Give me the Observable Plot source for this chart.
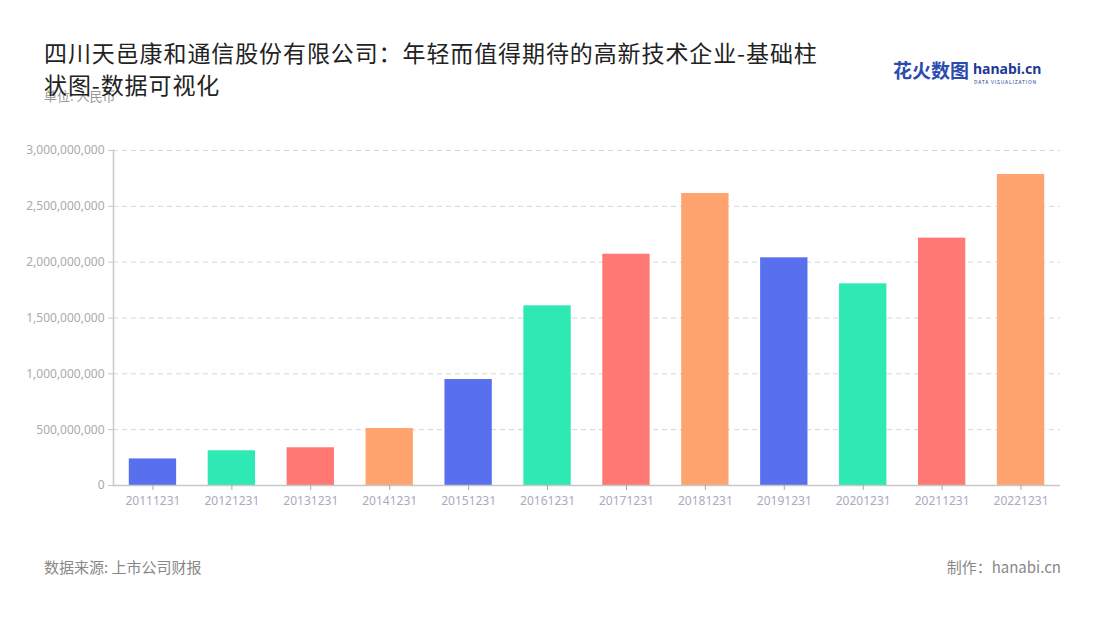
<!DOCTYPE html>
<html>
<head>
<meta charset="utf-8">
<script src="https://cdn.jsdelivr.net/npm/d3@7"></script>
<script src="https://cdn.jsdelivr.net/npm/@observablehq/plot@0.6"></script>
<style>
  body { margin: 0; background: #fff; font-family: "Noto Sans CJK SC", "Noto Sans", sans-serif; }
  #wrap { position: relative; width: 1100px; height: 620px; overflow: hidden; }
  #title { position: absolute; left: 44px; top: 36px; width: 820px; font-size: 23px; letter-spacing: 0.9px; line-height: 32px; color: #222; z-index: 2; white-space: nowrap; }
  #unit { position: absolute; left: 44px; top: 86px; font-size: 13px; color: #999; z-index: 1; }
  #logo { position: absolute; left: 893px; top: 56px; width: 150px; height: 30px; font-size: 19px; font-weight: bold; color: #2b4bb0; }
  #logo .en { position: absolute; left: 80px; top: 3px; font-size: 14px; color: #1e3a99; font-family: "Noto Sans", sans-serif; }
  #logo .sub { position: absolute; left: 81px; top: 22px; font-size: 5px; letter-spacing: 0.8px; color: #1e3a99; font-weight: normal; white-space: nowrap; }
  #chart { position: absolute; left: 0; top: 130px; }
  #source { position: absolute; left: 44px; top: 556px; font-size: 15px; color: #888; }
  #maker { position: absolute; right: 39px; top: 556px; font-size: 15px; color: #888; }
</style>
</head>
<body>
<div id="wrap">
  <div id="title">四川天邑康和通信股份有限公司：年轻而值得期待的高新技术企业-基础柱<br>状图-数据可视化</div>
  <div id="unit">单位: 人民币</div>
  <div id="logo"><span>花火数图</span><span class="en">hanabi.cn</span><span class="sub">DATA VISUALIZATION</span></div>
  <div id="chart"></div>
  <div id="source">数据来源: 上市公司财报</div>
  <div id="maker">制作：hanabi.cn</div>
</div>
<script>
const dates = ["20111231","20121231","20131231","20141231","20151231","20161231","20171231","20181231","20191231","20201231","20211231","20221231"];
const values = [238000000, 311000000, 338000000, 510000000, 949000000, 1609000000, 2071000000, 2615000000, 2039000000, 1806000000, 2215000000, 2785000000];
const yTicks = [0, 500000000, 1000000000, 1500000000, 2000000000, 2500000000, 3000000000];
const palette = ["#5970ee", "#2ee9b3", "#ff7873", "#ffa46f"];

const data = dates.map((d, i) => ({date: d, value: values[i], idx: i % 4}));

const chart = Plot.plot({
  width: 1100,
  height: 400,
  marginLeft: 113,
  marginRight: 40,
  marginTop: 20,
  marginBottom: 45,
  style: {fontFamily: "Noto Sans, sans-serif", fontSize: "12px", background: "transparent"},
  x: {domain: dates, paddingInner: 0.4, paddingOuter: 0.2, round: false, label: null},
  y: {domain: [0, 3000000000], label: null},
  color: {type: "ordinal", domain: [0, 1, 2, 3], range: palette},
  marks: [
    Plot.gridY(yTicks.filter(t => t > 0), {stroke: "#d6d6d6", strokeOpacity: 1, strokeDasharray: "5,4"}),
    Plot.barY(data, {x: "date", y: "value", fill: "idx"}),
    Plot.ruleY([0], {stroke: "#c8c8c8", strokeWidth: 1.5}),
    Plot.frame({anchor: "left", stroke: "#c8c8c8", strokeWidth: 1.5}),
    Plot.axisY({ticks: yTicks, tickFormat: d3.format(","), tickSize: 5, tickPadding: 4, stroke: "#c8c8c8", fill: "#aaa", fontSize: 12}),
    Plot.axisX({tickSize: 5, tickPadding: 6, stroke: "#aaa", fill: "#aab", fontSize: 12})
  ]
});
document.getElementById("chart").appendChild(chart);
</script>
</body>
</html>
